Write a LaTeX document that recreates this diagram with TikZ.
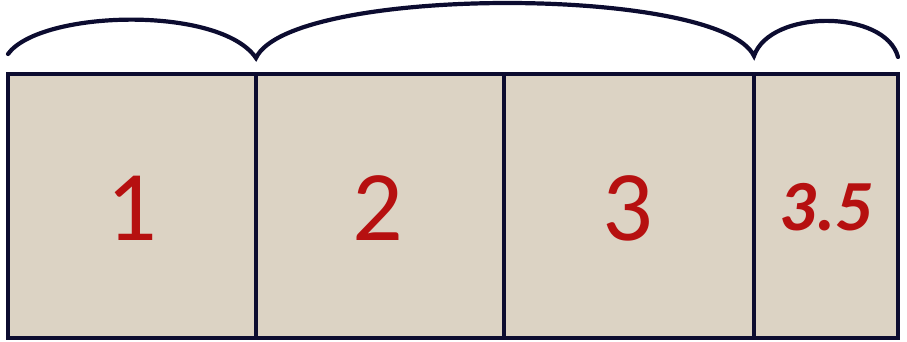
\documentclass[tikz,border=0pt]{standalone}
\usepackage{fontspec}
\newfontfamily\carl{Carlito}
\definecolor{navy}{RGB}{12,12,48}
\definecolor{sand}{RGB}{220,211,196}
\definecolor{numred}{RGB}{182,16,16}
\begin{document}
\begin{tikzpicture}[x=1pt,y=-1pt,
  cell/.style={draw=navy,fill=sand,line width=3.6pt,inner sep=0pt,outer sep=0pt,
    minimum height=264pt,anchor=north west},
  arcline/.style={draw=navy,line width=4.2pt,line cap=round,line join=miter},
  num/.style={text=numred,font=\carl\fontsize{100}{100}\selectfont,inner sep=0pt},
  numsmall/.style={text=numred,font=\carl\bfseries\itshape\fontsize{72}{72}\selectfont,inner sep=0pt}]
\useasboundingbox (0,0) rectangle (907,341);
\node[cell,minimum width=248pt] (b1) at (8,74) {};
\node[cell,minimum width=248pt] (b2) at (256,74) {};
\node[cell,minimum width=250pt] (b3) at (504,74) {};
\node[cell,minimum width=144pt] (b4) at (754,74) {};
\coordinate (p0) at (8,54);
\coordinate (p1) at (256,58);
\coordinate (p2) at (754,56);
\coordinate (p3) at (898,57);
\draw[arcline] (p0) .. controls (40,10) and (220,5) .. (p1)
  .. controls (290,-15) and (720,-15) .. (p2)
  .. controls (770,9) and (885,9) .. (p3);
\node[num] (t1) at (132,208) {1};
\node[num] (t2) at (378,208) {2};
\node[num] (t3) at (628,208) {3};
\node[numsmall] (t4) at (826,207) {3.5};
\end{tikzpicture}
\end{document}
